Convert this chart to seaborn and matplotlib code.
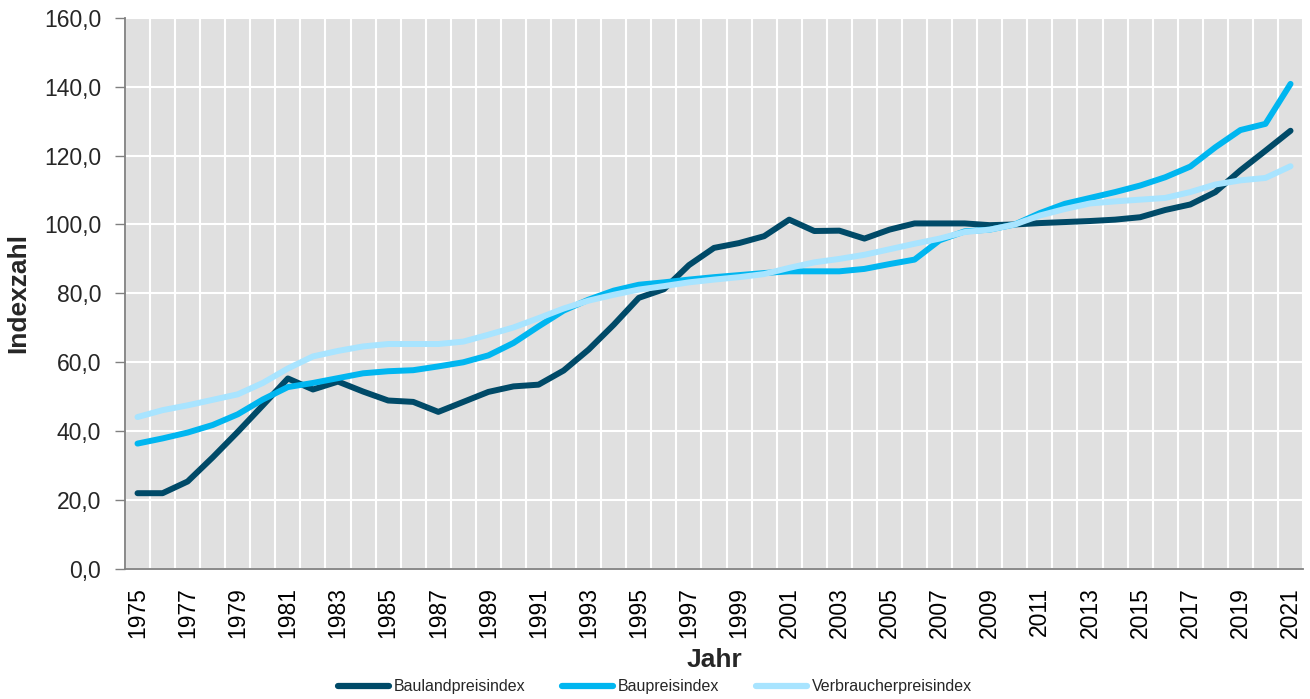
import numpy as np
import pandas as pd
import matplotlib
matplotlib.use("Agg")
import matplotlib.pyplot as plt
from matplotlib.ticker import FuncFormatter, MultipleLocator, FixedLocator
import seaborn as sns

# --- Daten ---
jahre = list(range(1975, 2022))
bauland = [22.0, 22.0, 25.4, 32.4, 39.8, 47.5, 55.3, 52.1, 54.4, 51.5,
           48.9, 48.5, 45.6, 48.5, 51.4, 53.0, 53.5, 57.6, 63.7, 70.9,
           78.7, 81.2, 88.2, 93.2, 94.6, 96.6, 101.4, 98.1, 98.2, 95.9,
           98.5, 100.3, 100.3, 100.3, 99.8, 100.0, 100.4, 100.7, 101.0, 101.4,
           102.1, 104.2, 105.8, 109.4, 115.7, 121.4, 127.2]
baupreis = [36.4, 37.9, 39.6, 41.8, 44.9, 49.2, 52.8, 54.0, 55.4, 56.8,
            57.4, 57.7, 58.8, 60.0, 62.0, 65.6, 70.4, 75.0, 78.2, 80.8,
            82.5, 83.2, 84.0, 84.7, 85.3, 85.9, 86.4, 86.4, 86.4, 87.1,
            88.5, 89.8, 95.4, 98.0, 98.5, 100.0, 103.3, 106.0, 107.7, 109.4,
            111.3, 113.7, 116.8, 122.4, 127.4, 129.2, 140.8]
vpi = [44.1, 46.1, 47.5, 49.1, 50.7, 54.0, 58.2, 61.7, 63.3, 64.6,
       65.3, 65.3, 65.3, 66.0, 68.0, 70.1, 72.8, 75.6, 77.9, 79.6,
       81.1, 82.1, 83.2, 84.0, 84.7, 85.6, 87.4, 89.0, 90.0, 91.2,
       92.8, 94.4, 95.9, 97.8, 98.5, 100.0, 102.6, 104.5, 106.1, 106.7,
       107.2, 107.7, 109.4, 111.6, 112.8, 113.5, 116.9]
serien = ["Baulandpreisindex", "Baupreisindex", "Verbraucherpreisindex"]
farben = ["#004A68", "#00B6F0", "#A8E4FF"]

df = pd.DataFrame({
    "Jahr": jahre * 3,
    "Wert": bauland + baupreis + vpi,
    "Serie": [serien[0]] * len(jahre) + [serien[1]] * len(jahre) + [serien[2]] * len(jahre),
})

# --- Stil ---
sns.set_theme(style="white")
plt.rcParams['font.family'] = ['Liberation Sans', 'DejaVu Sans']

fig = plt.figure(figsize=(13.1, 6.99), dpi=100)
ax = fig.add_axes([0.0954, 0.186, 0.8993, 0.7886])
ax.set_facecolor("#E0E0E0")

sns.lineplot(data=df, x="Jahr", y="Wert", hue="Serie", hue_order=serien,
             palette=farben, lw=4.3, ax=ax, solid_capstyle="round",
             solid_joinstyle="round")

# Achsen
ax.set_xlim(1974.5, 2021.5)
ax.set_ylim(0, 160)
ax.yaxis.set_major_locator(MultipleLocator(20))
ax.yaxis.set_major_formatter(FuncFormatter(lambda v, p: f"{v:.1f}".replace(".", ",")))

ax.xaxis.set_major_locator(FixedLocator(jahre[::2]))
ax.xaxis.set_minor_locator(FixedLocator(np.arange(1974.5, 2022, 1)))
ax.set_xticklabels([str(j) for j in jahre[::2]], rotation=90)

ax.tick_params(axis="x", which="major", length=0, pad=13, labelsize=16.5, colors="black")
ax.tick_params(axis="x", which="minor", length=6, width=1, color="#808080", direction="out")
ax.tick_params(axis="y", which="major", length=7, width=1, color="#808080", pad=10,
               labelsize=16.5, direction="out", left=True)

ax.grid(False)
ax.grid(True, axis="x", which="minor", color="white", lw=1.5)
ax.grid(True, axis="y", which="major", color="white", lw=1.5)
ax.set_axisbelow(True)

for s in ["top", "right"]:
    ax.spines[s].set_visible(False)
for s in ["left", "bottom"]:
    ax.spines[s].set_color("#808080")
    ax.spines[s].set_linewidth(1.3)

ax.set_xlabel("Jahr", fontsize=19, fontweight="bold", labelpad=7)
ax.set_ylabel("Indexzahl", fontsize=19, fontweight="bold", labelpad=10)

# Legende unten
handles, labels = ax.get_legend_handles_labels()
ax.get_legend().remove()
for h in handles:
    h.set_linewidth(4.5)
    h.set_solid_capstyle("round")
fig.legend(handles, labels, loc="lower center", bbox_to_anchor=(0.5, -0.014), ncol=3,
           frameon=False, fontsize=11.5, handlelength=3.2, handletextpad=0.3,
           columnspacing=2.3)

fig.savefig("out.png", dpi=100)
